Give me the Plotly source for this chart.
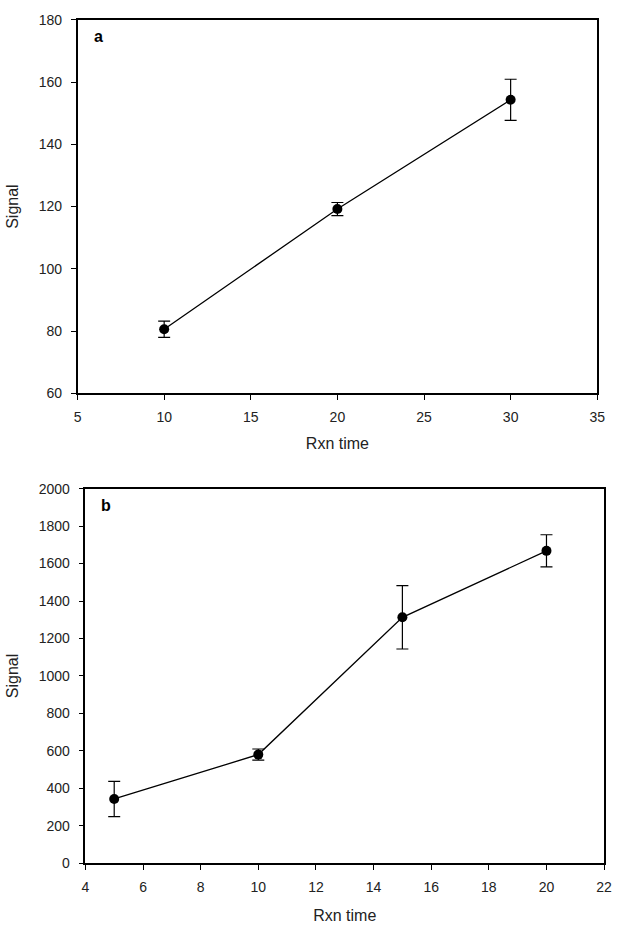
import plotly.graph_objects as go

# Panel a
a_time = [10, 20, 30]
a_signal = [80.6, 119.2, 154.3]
a_err = [2.6, 2.1, 6.6]

# Panel b
b_time = [5, 10, 15, 20]
b_signal = [343, 580, 1313, 1668]
b_err = [94, 30, 169, 86]

W, H = 618, 941
fig = go.Figure()

fig.add_trace(go.Scatter(
    x=a_time, y=a_signal, mode="lines+markers",
    error_y=dict(type="data", array=a_err, color="black", thickness=1.2, width=6),
    line=dict(color="black", width=1.3),
    marker=dict(color="black", size=10),
    xaxis="x", yaxis="y", showlegend=False))

fig.add_trace(go.Scatter(
    x=b_time, y=b_signal, mode="lines+markers",
    error_y=dict(type="data", array=b_err, color="black", thickness=1.2, width=6),
    line=dict(color="black", width=1.3),
    marker=dict(color="black", size=10),
    xaxis="x2", yaxis="y2", showlegend=False))

font = dict(family="Liberation Sans, Arial, sans-serif", color="#222222")
tfont = dict(family="Liberation Sans, Arial, sans-serif", color="#222222", size=16)
axcommon = dict(showgrid=False, zeroline=False, showline=True, linecolor="black",
                linewidth=1.5, ticks="outside", ticklen=5, tickwidth=1.2,
                tickcolor="black", tickfont=dict(size=14, **font))

fig.update_layout(
    width=W, height=H, margin=dict(l=0, r=0, t=0, b=0),
    paper_bgcolor="white", plot_bgcolor="white",
    xaxis=dict(domain=[75/W, 605/W], range=[5, 35], tickvals=[5, 10, 15, 20, 25, 30, 35],
               anchor="y", mirror=True, ticklabelstandoff=5,
               title=dict(text="Rxn time", font=tfont, standoff=14), **axcommon),
    yaxis=dict(domain=[1-392/H, 1-12/H], range=[60, 180], tickvals=[60, 80, 100, 120, 140, 160, 180],
               anchor="x", mirror=True, ticklabelstandoff=6,
               title=dict(text="Signal", font=tfont, standoff=16), **axcommon),
    xaxis2=dict(domain=[83/W, 612/W], range=[4, 22], tickvals=list(range(4, 23, 2)),
                anchor="y2", mirror=True, ticklabelstandoff=5,
                title=dict(text="Rxn time", font=tfont, standoff=16), **axcommon),
    yaxis2=dict(domain=[1-870/H, 1-489/H], range=[0, 2000], tickvals=list(range(0, 2001, 200)),
                anchor="x2", mirror=True, ticklabelstandoff=6,
                title=dict(text="Signal", font=tfont, standoff=16), **axcommon),
    annotations=[
        dict(text="<b>a</b>", x=0.028, y=0.955, xref="x domain", yref="y domain",
             showarrow=False, font=dict(size=16, family=font["family"], color="black"),
             xanchor="left", yanchor="middle"),
        dict(text="<b>b</b>", x=0.026, y=0.955, xref="x2 domain", yref="y2 domain",
             showarrow=False, font=dict(size=16, family=font["family"], color="black"),
             xanchor="left", yanchor="middle"),
    ],
)

fig.write_html("out.html")
